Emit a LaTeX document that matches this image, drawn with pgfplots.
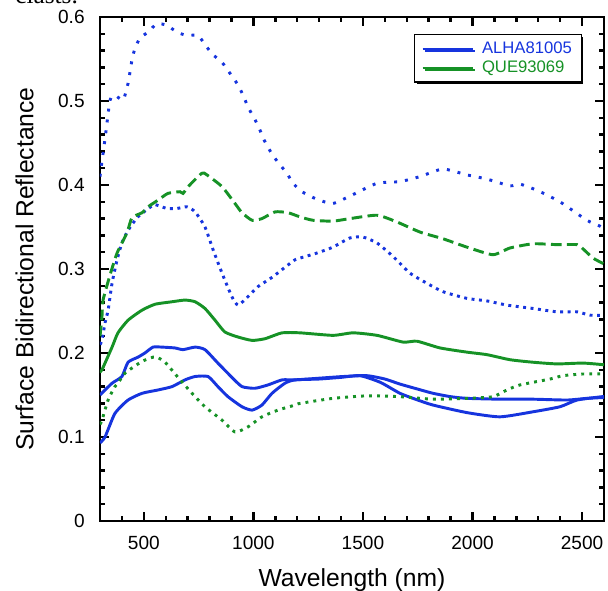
\documentclass[border=0pt]{standalone}
\usepackage{pgfplots}
\pgfplotsset{compat=1.18}
\usepackage{fontspec}
\setmainfont{Liberation Sans}
\newfontfamily\capfont{Liberation Serif}
\usetikzlibrary{shadows}

\definecolor{alha}{RGB}{22,52,222}
\definecolor{que}{RGB}{22,146,38}

\begin{document}
\begin{tikzpicture}
% frame of the whole picture (1 px = 0.75 pt), axis box at origin
\useasboundingbox (-75pt,-52.5pt) rectangle (381pt,390.75pt);
\clip (-75pt,-52.5pt) rectangle (381pt,390.75pt);
\node[anchor=base west, inner sep=0pt, font=\capfont\fontsize{19}{21}\selectfont] at (-63.75pt,387.75pt) {clasts.};
\begin{axis}[
  scale only axis,
  width=378pt, height=378pt,
  xmin=300, xmax=2600,
  ymin=0, ymax=0.6,
  xtick={500,1000,...,2500},
  minor xtick={400,600,700,800,900,1100,1200,1300,1400,1600,1700,1800,1900,2100,2200,2300,2400},
  ytick={0,0.1,...,0.6},
  minor ytick={0.02,0.04,0.06,0.08,0.12,0.14,0.16,0.18,0.22,0.24,0.26,0.28,0.32,0.34,0.36,0.38,0.42,0.44,0.46,0.48,0.52,0.54,0.56,0.58},
  tick align=inside,
  major tick length=6.5pt,
  minor tick length=3.5pt,
  every tick/.style={black, line width=1.8pt},
  axis line style={line width=2.2pt},
  /pgf/number format/assume math mode=true,
  /pgf/number format/1000 sep={},
  yticklabel style={/pgf/number format/fixed, /pgf/number format/precision=1, xshift=-8pt},
  xticklabel style={yshift=-8pt},
  tick label style={font=\fontsize{14.3}{16}\selectfont},
  xlabel={Wavelength (nm)},
  ylabel={Surface Bidirectional Reflectance},
  label style={font=\fontsize{18.5}{20}\selectfont},
  xlabel style={at={(axis description cs:0.5,-0.129)}, anchor=base},
  ylabel style={at={(axis description cs:-0.1323,0.5)}, anchor=base, rotate=0},
  legend style={at={(0.956,0.966)}, anchor=north east, draw=black, line width=0.9pt,
    fill=white, drop shadow={shadow xshift=1.6pt, shadow yshift=-1.6pt, fill=black, opacity=1},
    font=\fontsize{12.5}{13.5}\selectfont, row sep=0pt, inner xsep=5pt, inner ysep=3.5pt},
  legend cell align=left,
  legend image code/.code={\draw[#1] (0pt,0pt) -- (37.5pt,0pt);},
  every axis plot/.append style={smooth, tension=0.35},
]
\addlegendimage{alha, line width=2pt}
\addlegendentry{\hspace{4pt}\textcolor{alha}{ALHA81005}}
\addlegendimage{que, line width=2pt}
\addlegendentry{\hspace{4pt}\textcolor{que}{QUE93069}}

% ALHA81005, upper dotted
\addplot[forget plot, alha, line width=2.2pt, dash pattern=on 2.2pt off 6pt] coordinates {
(300,0.410) (309,0.428) (323,0.455) (346,0.501) (368,0.507) (405,0.501) (428,0.521)
(446,0.549) (460,0.563) (483,0.575) (519,0.582) (560,0.592) (606,0.590) (651,0.582)
(697,0.578) (747,0.578) (788,0.564) (816,0.555) (857,0.546) (893,0.533) (925,0.521)
(953,0.507) (975,0.493) (1003,0.480) (1026,0.468) (1048,0.454) (1080,0.439) (1112,0.427)
(1153,0.414) (1181,0.402) (1222,0.392) (1290,0.383) (1363,0.378) (1450,0.388) (1564,0.402)
(1669,0.404) (1760,0.410) (1865,0.419) (1975,0.412) (2066,0.407) (2171,0.399) (2217,0.401)
(2300,0.393) (2399,0.380) (2522,0.358) (2582,0.351) (2600,0.348)};

% ALHA81005, lower dotted
\addplot[forget plot, alha, line width=2.2pt, dash pattern=on 2.2pt off 3.4pt] coordinates {
(300,0.210) (309,0.215) (323,0.236) (337,0.251) (355,0.283) (378,0.311) (400,0.331)
(428,0.346) (473,0.362) (542,0.376) (560,0.376) (606,0.372) (651,0.372) (697,0.374)
(734,0.368) (779,0.350) (816,0.323) (857,0.295) (902,0.267) (930,0.257) (975,0.267)
(1021,0.279) (1085,0.290) (1144,0.302) (1190,0.311) (1213,0.313) (1290,0.319) (1363,0.326)
(1441,0.337) (1500,0.338) (1564,0.331) (1637,0.315) (1715,0.295) (1792,0.283) (1865,0.273)
(1975,0.265) (2066,0.262) (2157,0.257) (2276,0.253) (2386,0.249) (2477,0.249) (2536,0.245)
(2600,0.245)};

% QUE93069, dashed
\addplot[forget plot, que, line width=2.2pt, dash pattern=on 8pt off 4pt] coordinates {
(300,0.220) (309,0.243) (314,0.263) (346,0.293) (378,0.319) (423,0.343) (446,0.361)
(492,0.367) (519,0.374) (565,0.382) (610,0.390) (665,0.392) (679,0.390) (702,0.398)
(765,0.414) (788,0.412) (857,0.398) (916,0.378) (948,0.367) (994,0.358) (1039,0.360)
(1099,0.368) (1158,0.367) (1213,0.362) (1272,0.358) (1363,0.357) (1441,0.360) (1564,0.364)
(1655,0.356) (1760,0.344) (1865,0.336) (1975,0.326) (2093,0.317) (2171,0.325) (2276,0.330)
(2386,0.329) (2477,0.329) (2504,0.324) (2550,0.313) (2600,0.306)};

% QUE93069, solid
\addplot[forget plot, que, line width=2.2pt] coordinates {
(300,0.178) (309,0.180) (355,0.207) (382,0.224) (428,0.239) (492,0.251) (551,0.258)
(629,0.261) (688,0.263) (734,0.261) (779,0.253) (825,0.239) (870,0.225) (930,0.219)
(994,0.215) (1053,0.217) (1131,0.224) (1213,0.224) (1363,0.221) (1455,0.224) (1564,0.221)
(1683,0.213) (1747,0.214) (1852,0.206) (1975,0.201) (2066,0.198) (2171,0.192) (2276,0.189)
(2386,0.187) (2504,0.188) (2600,0.186)};

% ALHA81005, upper solid
\addplot[forget plot, alha, line width=2.2pt] coordinates {
(300,0.150) (355,0.164) (400,0.172) (428,0.189) (473,0.195) (505,0.200) (542,0.207)
(583,0.207) (642,0.206) (679,0.204) (734,0.207) (779,0.204) (838,0.188) (902,0.171)
(948,0.160) (1007,0.158) (1067,0.162) (1131,0.168) (1190,0.168) (1300,0.170) (1409,0.172)
(1518,0.173) (1600,0.169) (1669,0.163) (1750,0.157) (1820,0.152) (1900,0.148) (1975,0.146)
(2125,0.145) (2276,0.145) (2431,0.144) (2522,0.146) (2600,0.147)};

% ALHA81005, lower solid
\addplot[forget plot, alha, line width=2.2pt] coordinates {
(300,0.093) (323,0.100) (368,0.128) (428,0.144) (492,0.152) (565,0.156) (629,0.160)
(688,0.168) (734,0.172) (793,0.172) (838,0.160) (884,0.148) (948,0.136) (994,0.132)
(1039,0.138) (1085,0.152) (1144,0.164) (1190,0.168) (1300,0.169) (1400,0.171) (1487,0.173)
(1580,0.165) (1669,0.152) (1750,0.144) (1820,0.138) (1975,0.129) (2125,0.124) (2276,0.130)
(2399,0.136) (2477,0.144) (2591,0.148) (2600,0.148)};

% QUE93069, dotted
\addplot[forget plot, que, line width=2.2pt, dash pattern=on 2.2pt off 3.8pt] coordinates {
(300,0.115) (309,0.120) (337,0.144) (368,0.160) (382,0.164) (414,0.176) (492,0.190)
(542,0.195) (560,0.195) (597,0.189) (656,0.171) (720,0.152) (779,0.136) (857,0.120)
(916,0.106) (975,0.112) (1039,0.124) (1112,0.132) (1190,0.138) (1213,0.140) (1363,0.146)
(1518,0.149) (1669,0.148) (1820,0.145) (1975,0.146) (2093,0.148) (2157,0.156) (2217,0.162)
(2354,0.169) (2413,0.173) (2504,0.175) (2600,0.175)};
\end{axis}
\end{tikzpicture}
\end{document}
